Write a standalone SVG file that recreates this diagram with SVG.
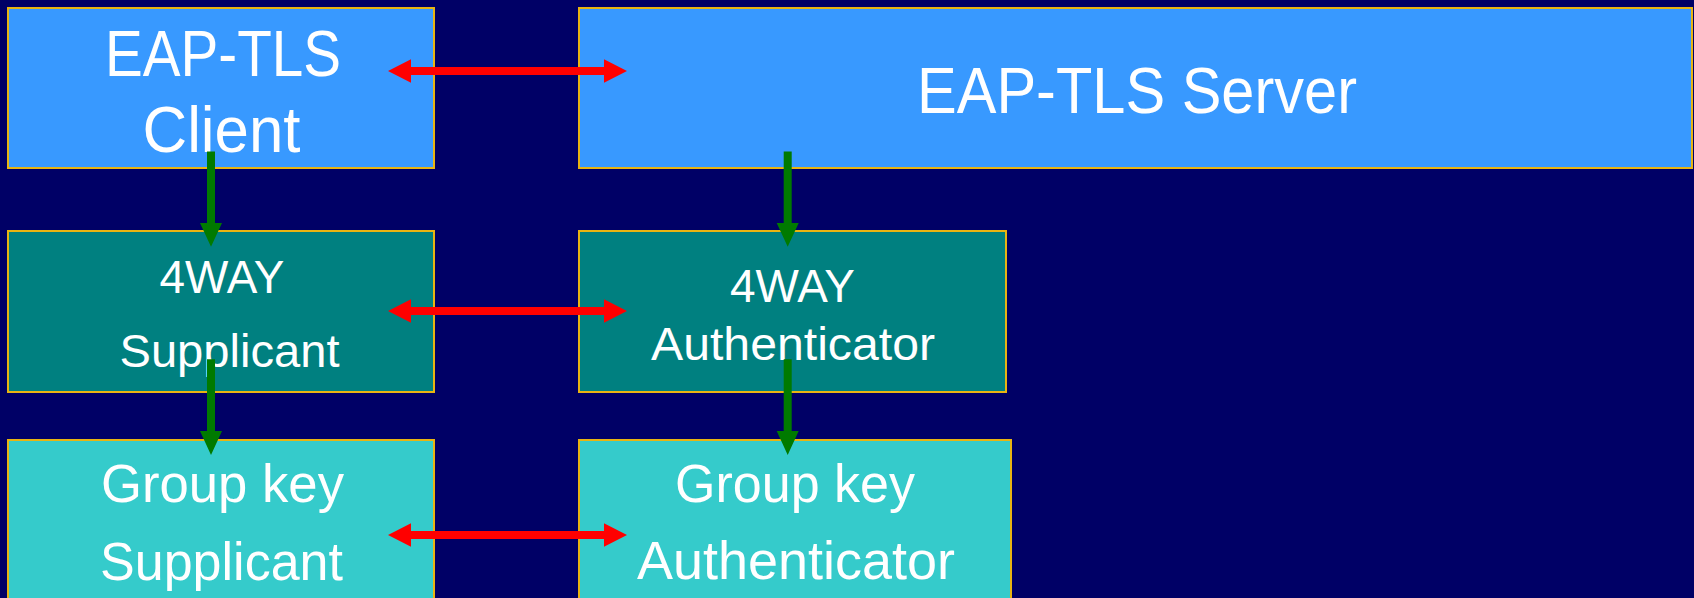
<svg xmlns="http://www.w3.org/2000/svg" width="1694" height="598" viewBox="0 0 1694 598">
  <style>
    .box { stroke: #E8B412; stroke-width: 2; }
    .blue { fill: #3899FF; }
    .teal { fill: #008080; }
    .cyan { fill: #35CBCB; }
    .lbl { font-family: "Liberation Sans", Arial, sans-serif; fill: #FFFFFF; text-anchor: middle; }
    .big { font-size: 64px; }
    .mid { font-size: 47px; }
    .low { font-size: 53px; }
    .red { fill: #FF0000; }
    .green { fill: #007A00; }
  </style>
  <rect x="0" y="0" width="1694" height="598" fill="#000066"/>

  <g id="node-eaptls-client">
    <rect class="box blue" x="8" y="8" width="426" height="160"/>
    <text class="lbl big" x="223" y="75.5" textLength="236" lengthAdjust="spacingAndGlyphs">EAP-TLS</text>
    <text class="lbl big" x="221.5" y="151.5" textLength="158" lengthAdjust="spacingAndGlyphs">Client</text>
  </g>

  <g id="node-eaptls-server">
    <rect class="box blue" x="579" y="8" width="1113" height="160"/>
    <text class="lbl big" x="1137" y="113" textLength="440" lengthAdjust="spacingAndGlyphs">EAP-TLS Server</text>
  </g>

  <g id="node-4way-supplicant">
    <rect class="box teal" x="8" y="231" width="426" height="161"/>
    <text class="lbl mid" x="222" y="292.5" textLength="125" lengthAdjust="spacingAndGlyphs">4WAY</text>
    <text class="lbl mid" x="229.5" y="367" textLength="220" lengthAdjust="spacingAndGlyphs">Supplicant</text>
  </g>

  <g id="node-4way-authenticator">
    <rect class="box teal" x="579" y="231" width="427" height="161"/>
    <text class="lbl mid" x="792.5" y="301.5" textLength="125" lengthAdjust="spacingAndGlyphs">4WAY</text>
    <text class="lbl mid" x="793" y="360" textLength="284" lengthAdjust="spacingAndGlyphs">Authenticator</text>
  </g>

  <g id="node-groupkey-supplicant">
    <rect class="box cyan" x="8" y="440" width="426" height="170"/>
    <text class="lbl low" x="222.5" y="501.5" textLength="243" lengthAdjust="spacingAndGlyphs">Group key</text>
    <text class="lbl low" x="221.5" y="580" textLength="243" lengthAdjust="spacingAndGlyphs">Supplicant</text>
  </g>

  <g id="node-groupkey-authenticator">
    <rect class="box cyan" x="579" y="440" width="432" height="170"/>
    <text class="lbl low" x="795" y="501.5" textLength="240" lengthAdjust="spacingAndGlyphs">Group key</text>
    <text class="lbl low" x="796" y="579" textLength="318" lengthAdjust="spacingAndGlyphs">Authenticator</text>
  </g>

  <g id="connectors">
    <!-- red bidirectional arrows -->
    <polygon class="red" points="388,71 411,59.3 411,67 604,67 604,59.3 627,71 604,82.7 604,75 411,75 411,82.7"/>
    <polygon class="red" points="388,311 411,299.3 411,307 604,307 604,299.3 627,311 604,322.7 604,315 411,315 411,322.7"/>
    <polygon class="red" points="388,535 411,523.3 411,531 604,531 604,523.3 627,535 604,546.7 604,539 411,539 411,546.7"/>
    <!-- green downward arrows -->
    <polygon class="green" points="207,151.5 215,151.5 215,223 222,223 211,246.7 200,223 207,223"/>
    <polygon class="green" points="783.7,151.5 791.7,151.5 791.7,223 798.7,223 787.7,246.7 776.7,223 783.7,223"/>
    <polygon class="green" points="207,359.3 215,359.3 215,431 222,431 211,455 200,431 207,431"/>
    <polygon class="green" points="783.7,359.3 791.7,359.3 791.7,431 798.7,431 787.7,455 776.7,431 783.7,431"/>
  </g>
</svg>
